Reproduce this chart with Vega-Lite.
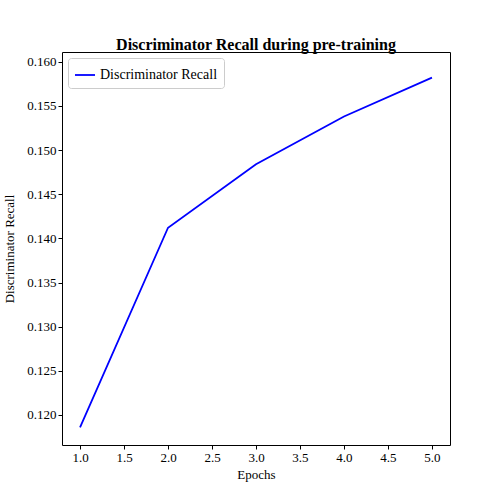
{
  "$schema": "https://vega.github.io/schema/vega-lite/v6.json",
  "width": 388,
  "height": 393,
  "autosize": "none",
  "padding": {"left": 62, "top": 52, "right": 50, "bottom": 55},
  "background": "white",
  "title": {"text": "Discriminator Recall during pre-training", "font": "Liberation Serif", "fontSize": 16, "fontWeight": "bold", "color": "black", "offset": -1},
  "config": {
    "font": "Liberation Serif",
    "view": {"stroke": "black", "strokeWidth": 1},
    "axis": {"grid": false, "domain": false, "tickColor": "black", "tickSize": 4, "labelFont": "Liberation Serif", "labelFontSize": 13, "labelColor": "black", "titleFont": "Liberation Serif", "titleFontSize": 13, "titleFontWeight": "normal", "titleColor": "black"}
  },
  "data": {"values": [
    {"epoch": 1, "recall": 0.1186, "series": "Discriminator Recall"},
    {"epoch": 2, "recall": 0.1412, "series": "Discriminator Recall"},
    {"epoch": 3, "recall": 0.1484, "series": "Discriminator Recall"},
    {"epoch": 4, "recall": 0.1538, "series": "Discriminator Recall"},
    {"epoch": 5, "recall": 0.1582, "series": "Discriminator Recall"}
  ]},
  "mark": {"type": "line", "strokeWidth": 1.8},
  "encoding": {
    "x": {"field": "epoch", "type": "quantitative", "title": "Epochs", "scale": {"domain": [0.795, 5.205], "nice": false, "zero": false}, "axis": {"values": [1, 1.5, 2, 2.5, 3, 3.5, 4, 4.5, 5], "format": ".1f", "titlePadding": 4}},
    "y": {"field": "recall", "type": "quantitative", "title": "Discriminator Recall", "scale": {"domain": [0.1166, 0.1611], "nice": false, "zero": false}, "axis": {"values": [0.12, 0.125, 0.13, 0.135, 0.14, 0.145, 0.15, 0.155, 0.16], "format": ".3f", "titlePadding": 10}},
    "color": {"field": "series", "type": "nominal", "scale": {"range": ["#0000ff"]}, "legend": {"title": null, "orient": "top-left", "symbolType": "stroke", "symbolSize": 400, "symbolStrokeWidth": 1.8, "labelFontSize": 14, "labelFont": "Liberation Serif", "labelColor": "black", "strokeColor": "#cccccc", "fillColor": "white", "padding": 6, "cornerRadius": 3, "offset": 6}}
  }
}
